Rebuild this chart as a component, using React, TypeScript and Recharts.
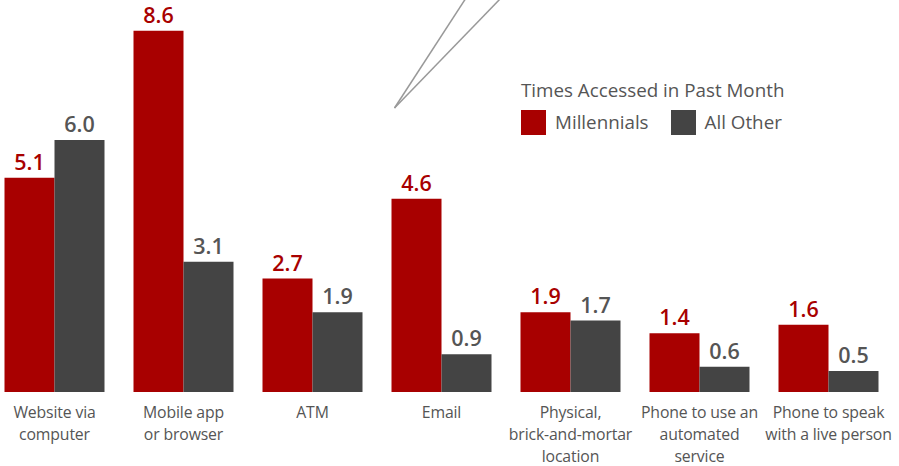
import React from "react";
import { BarChart, Bar, XAxis, YAxis, LabelList, Customized } from "recharts";

const categories = [
  "Website via computer",
  "Mobile app or browser",
  "ATM",
  "Email",
  "Physical, brick-and-mortar location",
  "Phone to use an automated service",
  "Phone to speak with a live person",
];
// each label split into the lines shown under the axis
const tickLines: string[][] = [
  ["Website via", "computer"],
  ["Mobile app", "or browser"],
  ["ATM"],
  ["Email"],
  ["Physical,", "brick-and-mortar", "location"],
  ["Phone to use an", "automated", "service"],
  ["Phone to speak", "with a live person"],
];
const millennials = [5.1, 8.6, 2.7, 4.6, 1.9, 1.4, 1.6];
const allOther = [6.0, 3.1, 1.9, 0.9, 1.7, 0.6, 0.5];

const RED = "#a80000";
const GRAY = "#444444";
const TEXT = "#555555";
const FONT = "'Open Sans', sans-serif";

const data = categories.map((c, i) => ({
  name: c,
  millennials: millennials[i],
  allOther: allOther[i],
}));

function Tick({ x, y, payload, index }: any) {
  const lines = tickLines[index] ?? [payload.value];
  return (
    <text x={x} y={y} textAnchor="middle" fill={TEXT} fontSize={15.8} letterSpacing={-0.15} fontFamily={FONT}>
      {lines.map((l, i) => (
        <tspan key={i} x={x} dy={i === 0 ? 18 : 22}>
          {l}
        </tspan>
      ))}
    </text>
  );
}

function LegendBox() {
  return (
    <div style={{ position: "absolute", left: 531.5, top: 77, fontFamily: FONT, color: TEXT, whiteSpace: "nowrap" }}>
      <div style={{ fontSize: 18.8, lineHeight: "26px", marginBottom: 6 }}>Times Accessed in Past Month</div>
      <div style={{ display: "flex", alignItems: "center", fontSize: 18.8, lineHeight: "26px" }}>
        <span style={{ width: 25, height: 25, background: RED, display: "inline-block", marginRight: 9 }} />
        <span style={{ marginRight: 22 }}>Millennials</span>
        <span style={{ width: 25, height: 25, background: GRAY, display: "inline-block", marginRight: 9 }} />
        <span>All Other</span>
      </div>
    </div>
  );
}

// two thin pointer lines coming in from the top edge of the picture
function Pointer() {
  return (
    <g>
      <line x1={404.5} y1={108} x2={476} y2={-2} stroke="#999" strokeWidth={1.5} />
      <line x1={404.5} y1={108} x2={511} y2={-2} stroke="#999" strokeWidth={1.5} />
    </g>
  );
}

const valueLabel = {
  position: "top" as const,
  offset: 8,
  fontSize: 21.5,
  fontWeight: 600,
  fontFamily: FONT,
  formatter: (v: any) => Number(v).toFixed(1),
};

export default function App() {
  return (
    <div style={{ position: "absolute", left: -10.5, top: 0, width: 909.5, height: 466, overflow: "hidden" }}>
      <BarChart
        width={903}
        height={466}
        data={data}
        margin={{ top: 14, right: 0, bottom: 0, left: 0 }}
        barCategoryGap={14.5}
        barGap={0}
      >
        <XAxis
          dataKey="name"
          axisLine={false}
          tickLine={false}
          tick={<Tick />}
          height={74}
          interval={0}
        />
        <YAxis hide domain={[0, 9]} />
        <Customized component={<Pointer />} />
        <Bar dataKey="millennials" fill={RED} isAnimationActive={false}>
          <LabelList dataKey="millennials" fill={RED} {...valueLabel} />
        </Bar>
        <Bar dataKey="allOther" fill={GRAY} isAnimationActive={false}>
          <LabelList dataKey="allOther" fill={TEXT} {...valueLabel} />
        </Bar>
      </BarChart>
      <LegendBox />
    </div>
  );
}
